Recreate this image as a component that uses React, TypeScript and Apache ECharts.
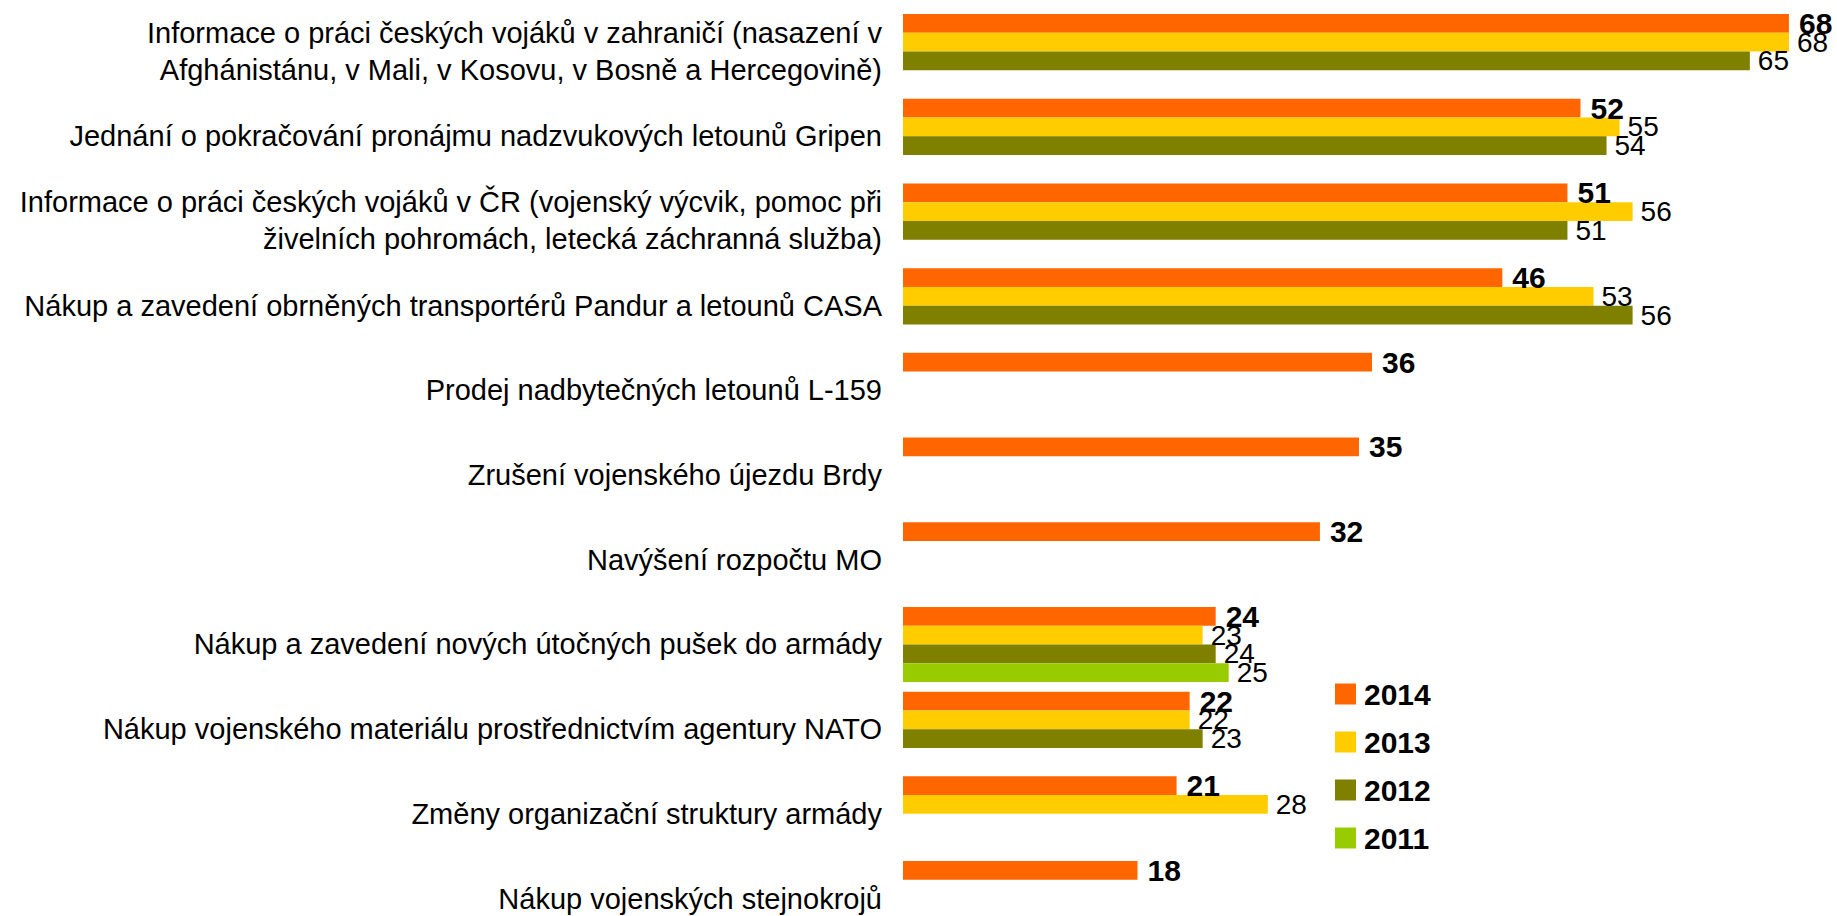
import React, { useEffect, useRef } from "react";
import * as echarts from "echarts";

const categories: string[] = [
  "Informace o práci českých vojáků v zahraničí (nasazení v\nAfghánistánu, v Mali, v Kosovu, v Bosně a Hercegovině)",
  "Jednání o pokračování pronájmu nadzvukových letounů Gripen",
  "Informace o práci českých vojáků v ČR (vojenský výcvik, pomoc při\nživelních pohromách, letecká záchranná služba)",
  "Nákup a zavedení obrněných transportérů Pandur a letounů CASA",
  "Prodej nadbytečných letounů L-159",
  "Zrušení vojenského újezdu Brdy",
  "Navýšení rozpočtu MO",
  "Nákup a zavedení nových útočných pušek do armády",
  "Nákup vojenského materiálu prostřednictvím agentury NATO",
  "Změny organizační struktury armády",
  "Nákup vojenských stejnokrojů",
];

const years: string[] = ["2014", "2013", "2012", "2011"];

const values2014: (number | null)[] = [68, 52, 51, 46, 36, 35, 32, 24, 22, 21, 18];
const values2013: (number | null)[] = [68, 55, 56, 53, null, null, null, 23, 22, 28, null];
const values2012: (number | null)[] = [65, 54, 51, 56, null, null, null, 24, 23, null, null];
const values2011: (number | null)[] = [null, null, null, null, null, null, null, 25, null, null, null];

const colors: string[] = ["#FF6600", "#FFCC00", "#808000", "#99CC00"];

const FONT = "'Liberation Sans', Arial, sans-serif";

export default function App() {
  const ref = useRef<HTMLDivElement>(null);

  useEffect(() => {
    if (!ref.current) return;
    const chart = echarts.init(ref.current, null, { renderer: "svg" });
    const seriesValues = [values2014, values2013, values2012, values2011];
    const series = seriesValues.map((vals, i) => ({
      name: years[i],
      type: "bar",
      data: vals,
      barWidth: 18.75,
      barGap: "0%",
      itemStyle: { color: colors[i] },
      label: {
        show: true,
        position: "right",
        distance: i === 0 ? 10 : 8,
        color: "#000",
        fontFamily: FONT,
        fontSize: i === 0 ? 30 : 28,
        fontWeight: i === 0 ? "bold" : "normal",
        formatter: "{c}",
      },
    }));

    chart.setOption({
      animation: false,
      backgroundColor: "#fff",
      grid: {
        left: 903,
        top: 9.2,
        width: 912,
        height: 931.7,
        containLabel: false,
        outerBoundsMode: "none",
      },
      xAxis: {
        type: "value",
        min: 0,
        max: 70,
        show: false,
        splitLine: { show: false },
      },
      yAxis: {
        type: "category",
        data: categories,
        inverse: true,
        axisLine: { show: false },
        axisTick: { show: false },
        splitLine: { show: false },
        axisLabel: {
          interval: 0,
          margin: 21,
          align: "right",
          color: "#000",
          fontFamily: FONT,
          fontSize: 29,
          lineHeight: 37,
        },
      },
      legend: {
        orient: "vertical",
        left: 1330,
        top: 674,
        itemWidth: 21,
        itemHeight: 21,
        itemGap: 18,
        icon: "rect",
        data: years,
        textStyle: {
          color: "#000",
          fontFamily: FONT,
          fontSize: 30,
          fontWeight: "bold",
          lineHeight: 30,
          padding: [0, 0, 0, 3],
        },
      },
      series,
    });

    return () => {
      chart.dispose();
    };
  }, []);

  return (
    <div
      ref={ref}
      style={{ position: "fixed", left: 0, top: 0, width: 1837, height: 916, background: "#fff" }}
    />
  );
}
